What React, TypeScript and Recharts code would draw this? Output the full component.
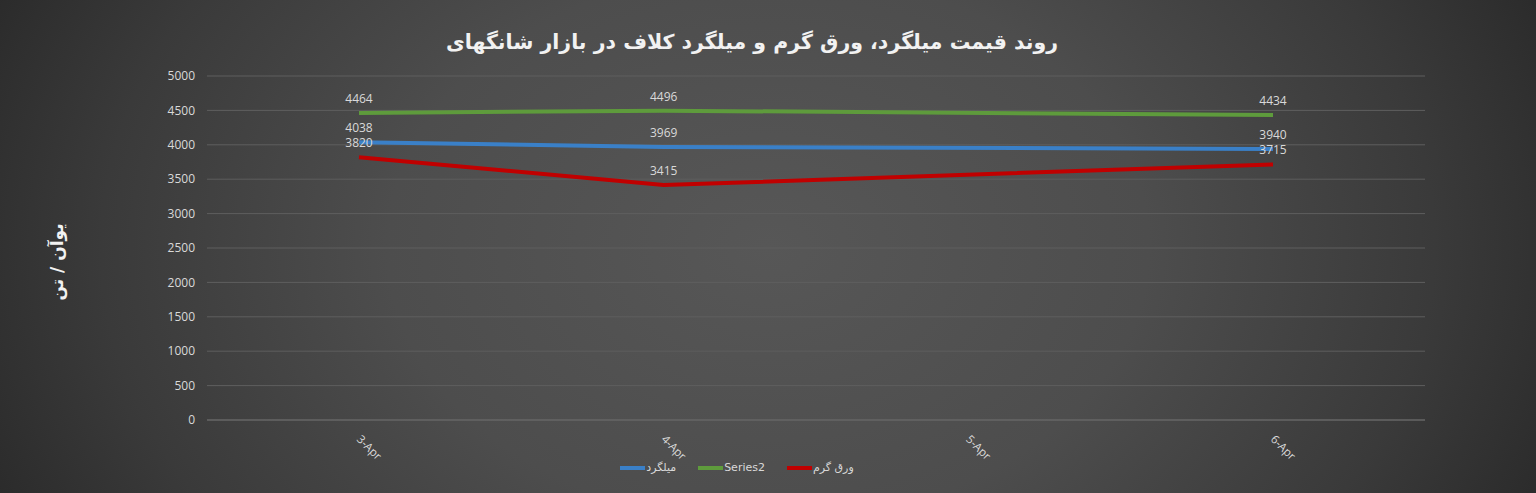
import { LineChart, Line, XAxis, YAxis, CartesianGrid, LabelList } from 'recharts';

const dates = ['3-Apr', '4-Apr', '5-Apr', '6-Apr'];
const rebar = [4038, 3969, null, 3940];
const series2 = [4464, 4496, null, 4434];
const hotSheet = [3820, 3415, null, 3715];
const yTicks = [0, 500, 1000, 1500, 2000, 2500, 3000, 3500, 4000, 4500, 5000];

const title = 'روند قیمت میلگرد، ورق گرم و میلگرد کلاف در بازار شانگهای';
const yLabel = 'یوآن / تن';

const chartData = dates.map((d, i) => ({
  date: d,
  rebar: rebar[i],
  series2: series2[i],
  hotSheet: hotSheet[i],
}));

const legendItems = [
  { name: 'میلگرد', color: '#3A80C8' },
  { name: 'Series2', color: '#5E9B3C' },
  { name: 'ورق گرم', color: '#C00000' },
];

const textColor = '#d9d9d9';
const font = '"DejaVu Sans", "Open Sans", sans-serif';
const numFont = '"Open Sans", "DejaVu Sans", sans-serif';

function DateTick(props: any) {
  const { x, y, payload } = props;
  return (
    <text
      x={x - 3}
      y={y + 12}
      transform={`rotate(45 ${x - 3} ${y + 12})`}
      fill={textColor}
      fontSize={11.5}
      fontFamily={numFont}
      textAnchor="start"
    >
      {payload.value}
    </text>
  );
}

export default function App() {
  return (
    <div
      style={{
        position: 'absolute',
        top: 0,
        left: 0,
        width: 1536,
        height: 493,
        background: 'radial-gradient(ellipse 62% 140% at 50% 50%, #575757 0%, #4d4d4d 40%, #3a3a3a 70%, #2a2a2a 90%, #262626 100%)',
        fontFamily: font,
        overflow: 'hidden',
      }}
    >
      <div
        style={{
          position: 'absolute',
          top: 30,
          left: 0,
          width: 1504,
          textAlign: 'center',
          color: '#f2f2f2',
          fontSize: 20.5,
          fontWeight: 'bold',
          direction: 'rtl',
        }}
      >
        {title}
      </div>
      <div
        style={{
          position: 'absolute',
          left: 57,
          top: 262,
          transform: 'translate(-50%, -50%) rotate(-90deg)',
          color: '#f2f2f2',
          fontSize: 17,
          fontWeight: 'bold',
          whiteSpace: 'nowrap',
          direction: 'rtl',
        }}
      >
        {yLabel}
      </div>
      <LineChart
        width={1536}
        height={493}
        data={chartData}
        margin={{ top: 76, right: 111, bottom: 0, left: 0 }}
        style={{ position: 'absolute', top: 0, left: 0 }}
      >
        <CartesianGrid vertical={false} stroke="#5e5e5e" strokeWidth={1} />
        <XAxis
          dataKey="date"
          padding={{ left: 152, right: 152 }}
          stroke="#6a6a6a"
          tickLine={false}
          tick={<DateTick />}
          interval={0}
          height={73}
        />
        <YAxis
          width={207}
          domain={[0, 5000]}
          ticks={yTicks}
          axisLine={false}
          tickLine={false}
          tickSize={0}
          tickMargin={12}
          tick={{ fill: textColor, fontSize: 12, fontFamily: numFont }}
        />
        <Line
          dataKey="series2"
          stroke="#5E9B3C"
          strokeWidth={4}
          dot={false}
          connectNulls
          isAnimationActive={false}
        >
          <LabelList dataKey="series2" position="top" offset={10} fill={textColor} fontSize={12} fontFamily={numFont} />
        </Line>
        <Line
          dataKey="rebar"
          stroke="#3A80C8"
          strokeWidth={4}
          dot={false}
          connectNulls
          isAnimationActive={false}
        >
          <LabelList dataKey="rebar" position="top" offset={10} fill={textColor} fontSize={12} fontFamily={numFont} />
        </Line>
        <Line
          dataKey="hotSheet"
          stroke="#C00000"
          strokeWidth={4}
          dot={false}
          connectNulls
          isAnimationActive={false}
        >
          <LabelList dataKey="hotSheet" position="top" offset={10} fill={textColor} fontSize={12} fontFamily={numFont} />
        </Line>
      </LineChart>
      <div
        style={{
          position: 'absolute',
          top: 461,
          left: 0,
          width: 1474,
          display: 'flex',
          justifyContent: 'center',
          gap: 22,
          color: textColor,
          fontSize: 11,
        }}
      >
        {legendItems.map((item) => (
          <div key={item.name} style={{ display: 'flex', alignItems: 'center' }}>
            <span style={{ display: 'inline-block', width: 25, height: 4, background: item.color, marginRight: 1 }} />
            <span>{item.name}</span>
          </div>
        ))}
      </div>
    </div>
  );
}
